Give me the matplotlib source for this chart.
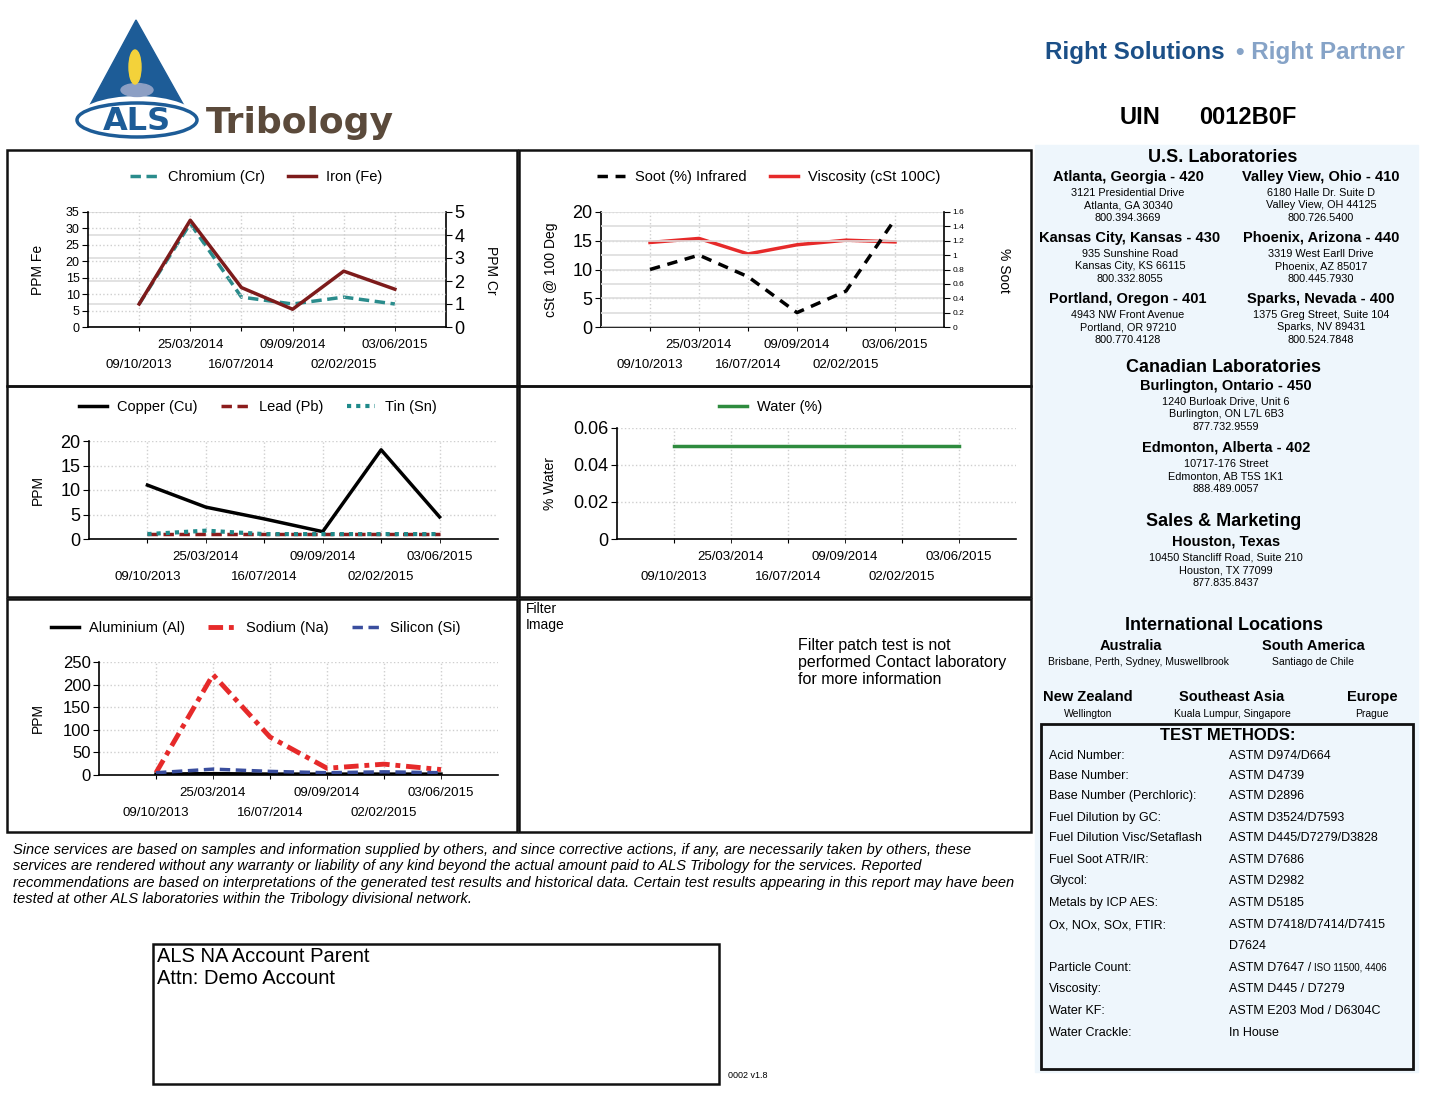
import matplotlib
matplotlib.use('Agg')
import matplotlib.pyplot as plt
from matplotlib.patches import Rectangle, Polygon, Ellipse
from matplotlib.ticker import FuncFormatter
import numpy as np

plt.rcParams['font.family'] = ['Liberation Sans', 'DejaVu Sans']

W, H = 1453, 1094

# sample dates shared by every trend chart
dates = ['09/10/2013', '25/03/2014', '16/07/2014', '09/09/2014', '02/02/2015', '03/06/2015']

# wear metals
iron = [7, 32.5, 12, 5.4, 17, 11.5]
chromium = [1.0, 4.5, 1.3, 1.0, 1.3, 1.0]
copper = [11, 6.5, 4.1, 1.5, 18.2, 4.5]
lead = [1, 1, 1, 1, 1, 1]
tin = [1, 1.7, 1, 1, 1, 1]

# fluid properties
viscosity = [14.7, 15.4, 12.7, 14.3, 15.1, 14.8]
soot = [0.8, 1.0, 0.7, 0.2, 0.5, 1.5]
water = [0.05, 0.05, 0.05, 0.05, 0.05, 0.05]

# contaminants
aluminium = [2, 3, 2, 2, 2, 2]
sodium = [5, 222, 84, 15, 24, 12]
silicon = [5, 13, 8, 5, 7, 5]

test_names = ['Acid Number:', 'Base Number:', 'Base Number (Perchloric):', 'Fuel Dilution by GC:',
              'Fuel Dilution Visc/Setaflash', 'Fuel Soot ATR/IR:', 'Glycol:', 'Metals by ICP AES:',
              'Ox, NOx, SOx, FTIR:', '', 'Particle Count:', 'Viscosity:', 'Water KF:', 'Water Crackle:']
test_methods = ['ASTM D974/D664', 'ASTM D4739', 'ASTM D2896', 'ASTM D3524/D7593',
                'ASTM D445/D7279/D3828', 'ASTM D7686', 'ASTM D2982', 'ASTM D5185',
                'ASTM D7418/D7414/D7415', 'D7624', 'ASTM D7647 /', 'ASTM D445 / D7279',
                'ASTM E203 Mod / D6304C', 'In House']

GRID = '#cfcfcf'


def frac(x0, y0, x1, y1):
    return [x0 / W, 1 - y1 / H, (x1 - x0) / W, (y1 - y0) / H]


def fmt(v, p):
    return f'{v:g}'


def setup(ax, ylim, yticks, ysize):
    x = np.arange(len(dates))
    ax.set_facecolor('none')
    ax.set_xlim(-1, len(dates))
    ax.set_xticks(x[::2])
    ax.set_xticklabels(dates[::2])
    ax.set_xticks(x[1::2], minor=True)
    ax.set_xticklabels(dates[1::2], minor=True)
    ax.tick_params(axis='x', which='minor', pad=6, labelsize=9.5, length=3)
    ax.tick_params(axis='x', which='major', pad=20, labelsize=9.5, length=3)
    ax.set_ylim(*ylim)
    ax.set_yticks(yticks)
    ax.yaxis.set_major_formatter(FuncFormatter(fmt))
    ax.tick_params(axis='y', labelsize=ysize, length=4, pad=2)
    ax.grid(True, which='both', axis='x', color=GRID, ls=':', lw=1)
    ax.grid(True, axis='y', color=GRID, ls=':', lw=1)
    for s in ['top', 'right']:
        ax.spines[s].set_visible(False)
    for s in ['left', 'bottom']:
        ax.spines[s].set_linewidth(1.2)
    return x


def twin(ax, ylim, yticks, ysize):
    ax2 = ax.twinx()
    ax2.set_ylim(*ylim)
    ax2.set_yticks(yticks)
    ax2.yaxis.set_major_formatter(FuncFormatter(fmt))
    ax2.tick_params(axis='y', labelsize=ysize, length=4, pad=2)
    ax2.grid(True, axis='y', color='#dddddd', ls='-', lw=1.2)
    for s in ['top', 'left', 'bottom']:
        ax2.spines[s].set_visible(False)
    ax2.spines['right'].set_linewidth(1.2)
    ax.set_zorder(ax2.get_zorder() + 1)
    return ax2


def legend(fig, handles, cx, cy):
    fig.legend(handles=handles, loc='center', bbox_to_anchor=(cx / W, 1 - cy / H),
               ncol=len(handles), frameon=False, fontsize=10.5, handlelength=1.9,
               handletextpad=0.7, columnspacing=1.6)


fig = plt.figure(figsize=(W / 100, H / 100), dpi=100)
bg = fig.add_axes([0, 0, 1, 1], zorder=-5)
bg.set_xlim(0, W)
bg.set_ylim(H, 0)
bg.axis('off')

# ---- logo / header ----
bg.add_patch(Polygon([[136, 20], [82, 120], [192, 120]], color='#1d5c97'))
bg.add_patch(Ellipse((137, 120), 124, 48, fc='white', ec='none'))
bg.add_patch(Ellipse((137, 120), 120, 34, fc='white', ec='#1d5c97', lw=2.5))
bg.add_patch(Ellipse((137, 90), 32, 13, color='#8c9fc4'))
bg.add_patch(Ellipse((135, 67), 12, 34, color='#f3d23a'))
bg.text(137, 121, 'ALS', ha='center', va='center', fontsize=23, fontweight='bold',
        color='#1d5c97', family='DejaVu Sans')
bg.text(206, 133, 'Tribology', ha='left', va='baseline', fontsize=26, fontweight='bold',
        color='#5b4a3b', family='DejaVu Sans')

bg.text(1045, 59, 'Right Solutions', ha='left', va='baseline', fontsize=17.5, fontweight='bold',
        color='#1b4f87')
bg.text(1405, 59, '\u2022 Right Partner', ha='right', va='baseline', fontsize=17.5, fontweight='bold',
        color='#86a3c7')
bg.text(1120, 118, 'UIN', ha='left', va='center', fontsize=17, fontweight='bold')
bg.text(1297, 118, '0012B0F', ha='right', va='center', fontsize=17, fontweight='bold')

# ---- right info panel ----
bg.add_patch(Rectangle((1035, 145), 383, 927, color='#eef6fc', zorder=0))
bg.add_patch(Rectangle((1041, 724), 372, 345, fc='none', ec='#111111', lw=2, zorder=2))


def lab(cx, y, head, lines, hsize=10.5):
    bg.text(cx, y, head, ha='center', va='center', fontsize=hsize, fontweight='bold')
    for i, l in enumerate(lines):
        bg.text(cx, y + 16 + 12.4 * i, l, ha='center', va='center', fontsize=7.8)


bg.text(1223, 157, 'U.S. Laboratories', ha='center', va='center', fontsize=13, fontweight='bold')
lab(1128, 177, 'Atlanta, Georgia - 420', ['3121 Presidential Drive', 'Atlanta, GA 30340', '800.394.3669'])
lab(1321, 177, 'Valley View, Ohio - 410', ['6180 Halle Dr. Suite D', 'Valley View, OH 44125', '800.726.5400'])
lab(1130, 238, 'Kansas City, Kansas - 430', ['935 Sunshine Road', 'Kansas City, KS 66115', '800.332.8055'])
lab(1321, 238, 'Phoenix, Arizona - 440', ['3319 West Earll Drive', 'Phoenix, AZ 85017', '800.445.7930'])
lab(1128, 299, 'Portland, Oregon - 401', ['4943 NW Front Avenue', 'Portland, OR 97210', '800.770.4128'])
lab(1321, 299, 'Sparks, Nevada - 400', ['1375 Greg Street, Suite 104', 'Sparks, NV 89431', '800.524.7848'])

bg.text(1223, 367, 'Canadian Laboratories', ha='center', va='center', fontsize=13, fontweight='bold')
lab(1226, 386, 'Burlington, Ontario - 450', ['1240 Burloak Drive, Unit 6', 'Burlington, ON L7L 6B3', '877.732.9559'])
lab(1226, 448, 'Edmonton, Alberta - 402', ['10717-176 Street', 'Edmonton, AB T5S 1K1', '888.489.0057'])

bg.text(1224, 522, 'Sales & Marketing', ha='center', va='center', fontsize=13, fontweight='bold')
lab(1226, 542, 'Houston, Texas', ['10450 Stancliff Road, Suite 210', 'Houston, TX 77099', '877.835.8437'])

bg.text(1224, 626, 'International Locations', ha='center', va='center', fontsize=13, fontweight='bold')
bg.text(1131, 646, 'Australia', ha='center', va='center', fontsize=10.5, fontweight='bold')
bg.text(1313, 646, 'South America', ha='center', va='center', fontsize=10.5, fontweight='bold')
bg.text(1138, 662, 'Brisbane, Perth, Sydney, Muswellbrook', ha='center', va='center', fontsize=7.5)
bg.text(1313, 662, 'Santiago de Chile', ha='center', va='center', fontsize=7.5)
for cx, head, sub in [(1088, 'New Zealand', 'Wellington'), (1232, 'Southeast Asia', 'Kuala Lumpur, Singapore'),
                      (1372, 'Europe', 'Prague')]:
    bg.text(cx, 697, head, ha='center', va='center', fontsize=10.5, fontweight='bold')
    bg.text(cx, 714, sub, ha='center', va='center', fontsize=7.5)

bg.text(1228, 736, 'TEST METHODS:', ha='center', va='center', fontsize=12, fontweight='bold')
rows_y = [756, 776, 796, 818, 838, 860, 881, 903, 925, 946, 968, 989, 1011, 1033]
for y, name, meth in zip(rows_y, test_names, test_methods):
    bg.text(1049, y, name, ha='left', va='center', fontsize=9)
    bg.text(1229, y, meth, ha='left', va='center', fontsize=9)
bg.text(1314, 968, 'ISO 11500, 4406', ha='left', va='center', fontsize=7)

# ---- chart boxes ----
for (x0, y0, x1, y1) in [(7, 150, 517, 386), (519, 150, 1031, 386), (7, 386, 517, 597),
                         (519, 386, 1031, 597), (7, 599, 517, 832), (519, 599, 1031, 832)]:
    bg.add_patch(Rectangle((x0, y0), x1 - x0, y1 - y0, fc='none', ec='#111111', lw=1.8))

# chart 1: chromium / iron
ax = fig.add_axes(frac(88, 212, 446, 327))
x = setup(ax, (0, 35), range(0, 36, 5), 9)
ax2 = twin(ax, (0, 5), range(0, 6), 13)
l_cr, = ax2.plot(x, chromium, color='#2a8c8c', lw=2.5, dashes=(3, 1.6), label='Chromium (Cr)')
l_fe, = ax.plot(x, iron, color='#7d1b1b', lw=2.5, label='Iron (Fe)')
legend(fig, [l_cr, l_fe], 256, 177)
bg.text(38, 270, 'PPM Fe', rotation=90, ha='center', va='center', fontsize=10)
bg.text(491, 270, 'PPM Cr', rotation=270, ha='center', va='center', fontsize=10)

# chart 2: soot / viscosity
ax = fig.add_axes(frac(601, 212, 944, 327))
x = setup(ax, (0, 20), range(0, 21, 5), 13)
ax2 = twin(ax, (0, 1.6), np.arange(0, 1.61, 0.2), 6)
ax.set_zorder(ax2.get_zorder() - 1)
ax2.set_facecolor('none')
l_so, = ax2.plot(x, soot, color='black', lw=2.5, dashes=(3, 2.2), label='Soot (%) Infrared')
l_vi, = ax.plot(x, viscosity, color='#e62a2a', lw=2.5, label='Viscosity (cSt 100C)')
legend(fig, [l_so, l_vi], 769, 177)
bg.text(551, 270, 'cSt @ 100 Deg', rotation=90, ha='center', va='center', fontsize=10)
bg.text(1004, 270, '% Soot', rotation=270, ha='center', va='center', fontsize=10)

# chart 3: copper / lead / tin
ax = fig.add_axes(frac(89, 441, 498, 539))
x = setup(ax, (0, 20), range(0, 21, 5), 13)
l_cu, = ax.plot(x, copper, color='black', lw=2.5, label='Copper (Cu)')
l_pb, = ax.plot(x, lead, color='#8c1c1c', lw=2.5, dashes=(3, 1.6), label='Lead (Pb)')
l_sn, = ax.plot(x, tin, color='#1f8a8a', lw=3, dashes=(1, 1.2), label='Tin (Sn)')
legend(fig, [l_cu, l_pb, l_sn], 258, 407)
bg.text(38, 490, 'PPM', rotation=90, ha='center', va='center', fontsize=10)

# chart 4: water
ax = fig.add_axes(frac(617, 428, 1016, 539))
x = setup(ax, (0, 0.06), [0, 0.02, 0.04, 0.06], 13)
l_w, = ax.plot(x, water, color='#2e8b3e', lw=2.5, label='Water (%)')
legend(fig, [l_w], 771, 407)
bg.text(550, 484, '% Water', rotation=90, ha='center', va='center', fontsize=10)

# chart 5: aluminium / sodium / silicon
ax = fig.add_axes(frac(99, 662, 498, 775))
x = setup(ax, (0, 250), range(0, 251, 50), 12)
l_al, = ax.plot(x, aluminium, color='black', lw=2.5, label='Aluminium (Al)')
l_na, = ax.plot(x, sodium, color='#e62a2a', lw=3.5, dashes=(3, 1.2, 1, 1.2), label='Sodium (Na)')
l_si, = ax.plot(x, silicon, color='#3a4e9e', lw=2.5, dashes=(3, 1.6), label='Silicon (Si)')
legend(fig, [l_al, l_na, l_si], 256, 628)
bg.text(38, 718, 'PPM', rotation=90, ha='center', va='center', fontsize=10)

# filter panel
bg.text(526, 602, 'Filter\nImage', ha='left', va='top', fontsize=10, linespacing=1.15)
bg.text(798, 638, 'Filter patch test is not\nperformed Contact laboratory\nfor more information',
        ha='left', va='top', fontsize=11.5, linespacing=1.15)

# ---- footer ----
disclaimer = ['Since services are based on samples and information supplied by others, and since corrective actions, if any, are necessarily taken by others, these',
              'services are rendered without any warranty or liability of any kind beyond the actual amount paid to ALS Tribology for the services. Reported',
              'recommendations are based on interpretations of the generated test results and historical data. Certain test results appearing in this report may have been',
              'tested at other ALS laboratories within the Tribology divisional network.']
for i, line in enumerate(disclaimer):
    bg.text(13, 850 + 16.3 * i, line, ha='left', va='center', fontsize=10.5, style='italic')

bg.add_patch(Rectangle((153, 944), 566, 140, fc='none', ec='#111111', lw=1.8))
bg.text(157, 956, 'ALS NA Account Parent', ha='left', va='center', fontsize=14.5)
bg.text(157, 978, 'Attn: Demo Account', ha='left', va='center', fontsize=14.5)
bg.text(728, 1076, '0002 v1.8', ha='left', va='center', fontsize=6.5)

fig.savefig('out.png', dpi=100)
